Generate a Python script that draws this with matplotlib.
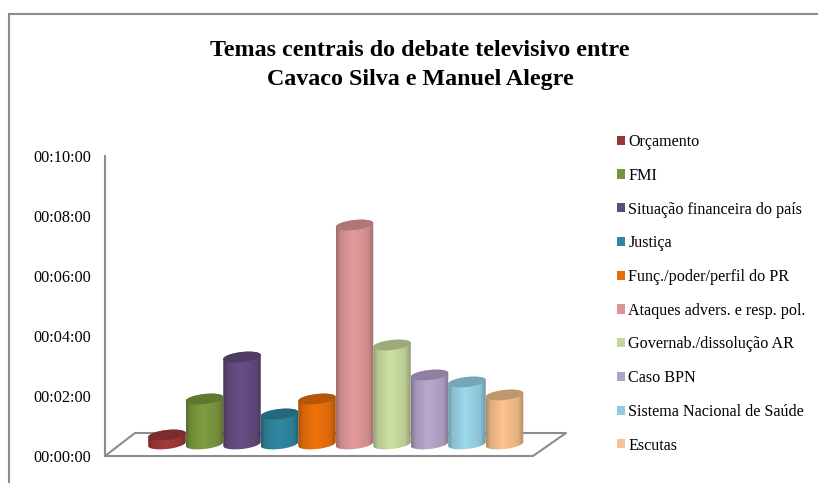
#!/usr/bin/env python3
"""Temas centrais do debate - fake 3D cylinder chart."""
import numpy as np
import matplotlib
matplotlib.use("Agg")
import matplotlib.pyplot as plt
from matplotlib.path import Path
from matplotlib.patches import Patch, PathPatch, Rectangle
from matplotlib.ticker import FuncFormatter

# Data
TEMAS = ["Orçamento", "FMI", "Situação financeira do país", "Justiça",
         "Funç./poder/perfil do PR",
         "Ataques advers. e resp. pol.", "Governab./dissolução AR", "Caso BPN",
         "Sistema Nacional de Saúde", "Escutas"]
SEGUNDOS = [18, 90, 174, 60, 90, 438, 198, 138, 124, 98]
CORES = ["#a33b39", "#7f9d40", "#674f84", "#3089a3", "#f0730b",
         "#e59b9b", "#cfe1a3", "#bba9d0", "#9bd9ec", "#fdc58f"]
LEGENDA_CORES = ["#953735", "#77933c", "#604a7b", "#31859c", "#e46c0a",
                 "#d99694", "#c3d69b", "#b3a2c7", "#93cddd", "#fac090"]
Y_TICKS = [0, 120, 240, 360, 480, 600]
TITULO = "Temas centrais do debate televisivo entre\nCavaco Silva e Manuel Alegre"

# Style
W, H = 818, 483
GRAY = "#8c8c8c"
plt.rcParams["font.family"] = ["Liberation Serif", "DejaVu Serif"]


def px_axes(fig, left, top, right, bottom):
    """Axes from pixel edges of the figure"""
    return fig.add_axes([left / W, 1 - bottom / H, (right - left) / W, (bottom - top) / H])


def ellipse(cx, cy, t, a=0.5, b=10, tilt=4):
    return cx + a * np.cos(t), cy + b * np.sin(t) + tilt * np.cos(t)


def draw_cylinder(ax, i, value, color):
    base = 24
    rgb = np.array(matplotlib.colors.to_rgb(color))
    s = np.linspace(0, 1, 64)
    shade = np.interp(s, [0, 0.12, 0.45, 0.85, 1], [0.7, 0.88, 1.0, 0.9, 0.7])
    img = np.clip(shade[None, :, None] * rgb[None, None, :], 0, 1)

    t_low = np.linspace(np.pi, 2 * np.pi, 40)
    t_up = np.linspace(0, np.pi, 40)
    x0, y0 = ellipse(i, base, t_low)
    x1, y1 = ellipse(i, base + value, t_up)
    verts = np.column_stack([np.r_[x0, x1], np.r_[y0, y1]])
    body = Path(np.vstack([verts, verts[0]]), closed=True)

    im = ax.imshow(img, extent=[i - 0.5, i + 0.5, 0, 650], aspect="auto",
                   zorder=3 + i, interpolation="bilinear")
    im.set_clip_path(PathPatch(body, transform=ax.transData))

    t = np.linspace(0, 2 * np.pi, 80)
    x2, y2 = ellipse(i, base + value, t)
    ax.fill(x2, y2, color=rgb * 0.76, lw=0, zorder=3 + i)


def main():
    fig = plt.figure(figsize=(W / 100, H / 100), dpi=100)

    # outer chart frame
    fig.add_artist(Rectangle((9 / W, -0.1), 1.1, 1.1 - 14 / H, transform=fig.transFigure,
                             fill=False, ec=GRAY, lw=1.5))

    ax = px_axes(fig, 105, 156, 600, 456)
    for i, (v, c) in enumerate(zip(SEGUNDOS, CORES)):
        draw_cylinder(ax, i, v, c)
    ax.set_xlim((105 - 167) / 37.5, (600 - 167) / 37.5)
    ax.set_ylim(0, 600)
    ax.patch.set_visible(False)

    for side in ["top", "right", "bottom"]:
        ax.spines[side].set_visible(False)
    ax.spines["left"].set_color(GRAY)
    ax.spines["left"].set_linewidth(1.5)
    ax.set_xticks([])
    ax.set_yticks(Y_TICKS)
    ax.yaxis.set_major_formatter(FuncFormatter(
        lambda v, _: f"00:{int(v) // 60:02d}:{int(v) % 60:02d}"))
    ax.tick_params(axis="y", length=0, pad=10, labelsize=11.7)

    # floor of the 3D box
    floor_x = np.array([105, 135, 566, 533, 105]) / W
    floor_y = 1 - np.array([456, 433, 433, 456, 456]) / H
    fig.add_artist(plt.Line2D(floor_x, floor_y, color=GRAY, lw=1.5, zorder=0))

    fig.text(420 / W, 1 - 65 / H, TITULO, ha="center", va="center",
             fontsize=17.3, fontweight="bold", linespacing=1.45)

    handles = [Patch(facecolor=c, edgecolor="none") for c in LEGENDA_CORES]
    ax.legend(handles, TEMAS, loc="upper left", frameon=False, fontsize=11.6,
              bbox_to_anchor=(609 / W, 1 - 126 / H), bbox_transform=fig.transFigure,
              handlelength=0.5, handleheight=0.5, handletextpad=0.2,
              labelspacing=1.10, borderaxespad=0, borderpad=0.5)

    fig.savefig("out.png", dpi=100)


if __name__ == "__main__":
    main()
